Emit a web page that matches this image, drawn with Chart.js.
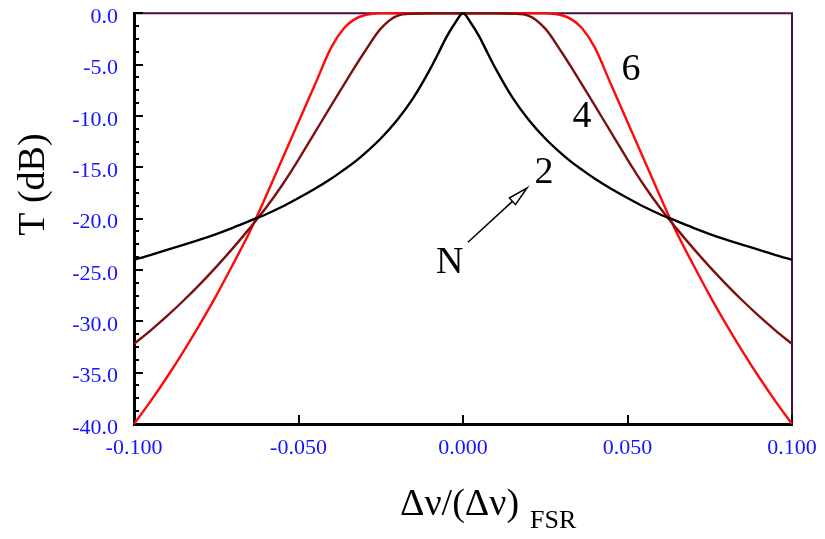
<!DOCTYPE html>
<html>
<head>
<meta charset="utf-8">
<script src="https://cdn.jsdelivr.net/npm/chart.js@4.4.0/dist/chart.umd.min.js"></script>
<style>
  html, body { margin: 0; padding: 0; background: #fff; }
</style>
</head>
<body>
<canvas id="chart" width="825" height="539"></canvas>
<script>
// frequency offset, normalised to the FSR
const detuning = [
  -0.100, -0.095, -0.090, -0.085, -0.080, -0.075, -0.070, -0.065, -0.060, -0.055, -0.050, -0.045,
  -0.040, -0.036, -0.033, -0.030, -0.025, -0.020, -0.015, -0.010, -0.0075, -0.005, -0.0025,
  0,
  0.0025, 0.005, 0.0075, 0.010, 0.015, 0.020, 0.025, 0.030, 0.033, 0.036, 0.040,
  0.045, 0.050, 0.055, 0.060, 0.065, 0.070, 0.075, 0.080, 0.085, 0.090, 0.095, 0.100
]

// transmission in dB
const transN2 = [
  -24.0, -23.55, -23.05, -22.55, -22.05, -21.5, -20.9, -20.25, -19.6, -18.85, -18.0, -17.1,
  -16.1, -15.2, -14.5, -13.7, -12.2, -10.4, -8.2, -5.45, -3.9, -2.3, -1.0,
  0,
  -1.0, -2.3, -3.9, -5.45, -8.2, -10.4, -12.2, -13.7, -14.5, -15.2, -16.1,
  -17.1, -18.0, -18.85, -19.6, -20.25, -20.9, -21.5, -22.05, -22.55, -23.05, -23.55, -24.0
]
const transN4 = [
  -32.2, -30.9, -29.5, -28.0, -26.4, -24.7, -22.9, -21.0, -19.0, -16.75, -14.25, -11.6,
  -8.95, -6.85, -5.3, -3.8, -1.5, -0.25, -0.05, 0, 0, 0, 0,
  0,
  0, 0, 0, 0, -0.05, -0.25, -1.5, -3.8, -5.3, -6.85, -8.95,
  -11.6, -14.25, -16.75, -19.0, -21.0, -22.9, -24.7, -26.4, -28.0, -29.5, -30.9, -32.2
]
const transN6 = [
  -40.0, -37.8, -35.45, -32.95, -30.3, -27.5, -24.5, -21.4, -17.9, -14.25, -10.6, -6.95,
  -3.3, -1.4, -0.6, -0.2, -0.02, 0, 0, 0, 0, 0, 0,
  0,
  0, 0, 0, 0, 0, 0, -0.02, -0.2, -0.6, -1.4, -3.3,
  -6.95, -10.6, -14.25, -17.9, -21.4, -24.5, -27.5, -30.3, -32.95, -35.45, -37.8, -40.0
]

const xTicks = [-0.1, -0.05, 0, 0.05, 0.1]

function points(ys) {
  return detuning.map((x, i) => ({ x: x, y: ys[i] }))
}

const serif = 'Liberation Serif, Times New Roman, serif'
const tickBlue = '#1414ff'

// inward ticks, frame, titles and labels
const decorations = {
  id: 'decorations',
  beforeDatasetsDraw(chart) {
    const { ctx, chartArea: a } = chart
    ctx.save()
    ctx.strokeStyle = '#4a0c4a'
    ctx.lineWidth = 2
    ctx.beginPath()
    ctx.moveTo(a.left, a.top)
    ctx.lineTo(a.right, a.top)
    ctx.lineTo(a.right, a.bottom)
    ctx.stroke()

    ctx.strokeStyle = '#000'
    ctx.lineWidth = 2
    const y = chart.scales.y
    for (let v = -40; v <= 0.001; v += 1.25) {
      const py = Math.round(y.getPixelForValue(v))
      const len = Math.abs(v % 5) < 0.01 ? 9 : 5
      ctx.beginPath()
      ctx.moveTo(a.left, py)
      ctx.lineTo(a.left + len, py)
      ctx.stroke()
    }
    const x = chart.scales.x
    for (const v of xTicks) {
      const px = Math.round(x.getPixelForValue(v))
      ctx.beginPath()
      ctx.moveTo(px, a.bottom)
      ctx.lineTo(px, a.bottom - 9)
      ctx.stroke()
    }
    ctx.restore()
  },
  afterDraw(chart) {
    const { ctx, chartArea: a } = chart
    const x = chart.scales.x
    const y = chart.scales.y
    ctx.save()
    ctx.fillStyle = '#000'

    // y title
    ctx.font = '38px ' + serif
    ctx.textAlign = 'center'
    ctx.textBaseline = 'alphabetic'
    ctx.save()
    ctx.translate(44, (a.top + a.bottom) / 2 - 34)
    ctx.rotate(-Math.PI / 2)
    ctx.fillText('T (dB)', 0, 0)
    ctx.restore()

    // x title with subscript
    ctx.textAlign = 'left'
    ctx.font = '38px ' + serif
    ctx.fillText('\u0394\u03bd/(\u0394\u03bd)', 400, 515)
    ctx.font = '26px ' + serif
    ctx.fillText('FSR', 530, 528)

    // curve labels
    ctx.font = '38px ' + serif
    ctx.textAlign = 'center'
    const labels = [['6', 0.0511, -6.5], ['4', 0.0362, -11.1], ['2', 0.0246, -16.5], ['N', -0.0040, -25.3]]
    for (const [t, lx, ly] of labels) {
      ctx.fillText(t, x.getPixelForValue(lx), y.getPixelForValue(ly))
    }

    // arrow from N towards 2
    const x1 = x.getPixelForValue(0.0015), y1 = y.getPixelForValue(-22.3)
    const x2 = x.getPixelForValue(0.0195), y2 = y.getPixelForValue(-17.0)
    const ang = Math.atan2(y2 - y1, x2 - x1)
    const hl = 20, hw = 4.5
    const bx = x2 - hl * Math.cos(ang), by = y2 - hl * Math.sin(ang)
    ctx.strokeStyle = '#000'
    ctx.lineWidth = 1.5
    ctx.beginPath()
    ctx.moveTo(x1, y1)
    ctx.lineTo(bx, by)
    ctx.stroke()
    ctx.beginPath()
    ctx.moveTo(x2, y2)
    ctx.lineTo(bx + hw * Math.sin(ang), by - hw * Math.cos(ang))
    ctx.lineTo(bx - hw * Math.sin(ang), by + hw * Math.cos(ang))
    ctx.closePath()
    ctx.fillStyle = '#fff'
    ctx.fill()
    ctx.stroke()
    ctx.restore()
  }
}

const curve = (label, ys, color) => ({
  label: label,
  data: points(ys),
  borderColor: color,
  borderWidth: 2.4,
  pointRadius: 0,
  showLine: true,
  fill: false,
  cubicInterpolationMode: 'monotone',
  clip: false
})

new Chart(document.getElementById('chart'), {
  type: 'scatter',
  data: {
    datasets: [
      curve('N = 2', transN2, '#000000'),
      curve('N = 4', transN4, '#7a1212'),
      curve('N = 6', transN6, '#ff0a0a')
    ]
  },
  options: {
    responsive: false,
    animation: false,
    layout: { padding: { left: 0, top: 13, right: 33, bottom: 0 } },
    plugins: {
      legend: { display: false },
      tooltip: { enabled: false }
    },
    scales: {
      x: {
        type: 'linear',
        min: -0.1,
        max: 0.1,
        afterFit: s => { s.height = 115 },
        afterBuildTicks: s => { s.ticks = xTicks.map(v => ({ value: v })) },
        // tick marks are drawn by the plugin; tickLength only sets the label gap
        grid: { display: false, drawTicks: true, tickLength: 11 },
        border: { display: true, color: '#000', width: 3 },
        ticks: {
          padding: 0,
          color: tickBlue,
          font: { family: serif, size: 22 },
          callback: v => v.toFixed(3)
        }
      },
      y: {
        min: -40,
        max: 0,
        afterFit: s => { s.width = 134 },
        grid: { display: false, drawTicks: true, tickLength: 16 },
        border: { display: true, color: '#000', width: 3 },
        ticks: {
          stepSize: 5,
          padding: 0,
          labelOffset: 4,
          color: tickBlue,
          font: { family: serif, size: 22 },
          callback: v => v.toFixed(1)
        }
      }
    }
  },
  plugins: [decorations]
})
</script>
</body>
</html>
